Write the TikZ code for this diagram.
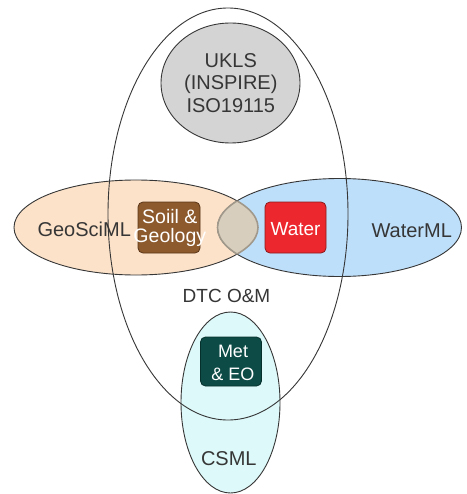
\documentclass[tikz,border=0pt]{standalone}
\usepackage{fontspec}
\setmainfont{Liberation Sans}
\definecolor{geofill}{HTML}{FCE2C9}
\definecolor{waterfill}{HTML}{BEDFFA}
\definecolor{lensfill}{HTML}{D8CEBE}
\definecolor{lensedge}{HTML}{A0988A}
\definecolor{uklsfill}{HTML}{D4D4D4}
\definecolor{csmlfill}{HTML}{DDF9F9}
\definecolor{soilfill}{HTML}{8C5A2D}
\definecolor{soiledge}{HTML}{5A3618}
\definecolor{redfill}{HTML}{EC282E}
\definecolor{rededge}{HTML}{8A1A1C}
\definecolor{metfill}{HTML}{0C4B46}
\definecolor{metedge}{HTML}{06302C}
\definecolor{ink}{HTML}{363636}
\begin{document}
\begin{tikzpicture}[x=1pt,y=-1pt,
  outline/.style={draw=ink, line width=0.9pt},
  lbl/.style={text=ink, font=\fontsize{20}{22.5}\selectfont, align=center, inner sep=0pt},
  tag/.style={draw, rounded corners=5pt, line width=0.8pt, inner sep=0pt},
  tagtext/.style={text=white, align=center, inner sep=0pt}]

\useasboundingbox (0,0) rectangle (466,494);
\fill[white] (0,0) rectangle (466,494);

% CSML ellipse (fill first so the DTC outline stays on top)
\fill[csmlfill] (230.5,402.5) ellipse [x radius=49.5pt, y radius=90.5pt];

% GeoSciML and WaterML ellipses
\draw[outline, fill=geofill] (136,227.5) ellipse [x radius=122pt, y radius=47.5pt];
\draw[outline, fill=waterfill] (339.5,227.5) ellipse [x radius=122pt, y radius=49pt];

% overlap of the two
\begin{scope}
  \clip (136,227.5) ellipse [x radius=122pt, y radius=47.5pt];
  \draw[fill=lensfill, draw=lensedge, line width=1.6pt] (339.5,227.5) ellipse [x radius=122pt, y radius=49pt];
\end{scope}
\begin{scope}
  \clip (339.5,227.5) ellipse [x radius=122pt, y radius=49pt];
  \draw[draw=lensedge, line width=1.6pt] (136,227.5) ellipse [x radius=122pt, y radius=47.5pt];
\end{scope}

% UKLS circle
\draw[outline, fill=uklsfill] (230.5,83) ellipse [x radius=69.5pt, y radius=60pt];

% DTC O&M ellipse and CSML outline
\draw[outline] (228,214) ellipse [x radius=120pt, y radius=206pt];
\draw[outline] (230.5,402.5) ellipse [x radius=49.5pt, y radius=90.5pt];

% coloured boxes
\node[tag, fill=soilfill, draw=soiledge, minimum width=62pt, minimum height=51pt] (soil) at (169,227.5) {};
\node[tag, fill=redfill, draw=rededge, minimum width=61pt, minimum height=51pt] (water) at (295.5,227.5) {};
\node[tag, fill=metfill, draw=metedge, minimum width=61pt, minimum height=49pt] (met) at (231,361.5) {};

\node[tagtext, font=\fontsize{19.5}{18.5}\selectfont, anchor=north] (soiltext) at (169.8,209.5) {Soiil \&\\Geology};
\node[tagtext, font=\fontsize{19}{22}\selectfont, anchor=base] (watertext) at (295.5,235.7) {Water};
\node[tagtext, font=\fontsize{18}{22.7}\selectfont, anchor=north] (mettext) at (233,345) {Met\\\& EO};

% labels
\node[lbl, anchor=north] (ukls) at (230.8,53.3) {UKLS\\(INSPIRE)\\ISO19115};
\node[lbl, anchor=base] (geosciml) at (84.2,236) {GeoSciML};
\node[lbl, anchor=base] (waterml) at (411.7,237.3) {WaterML};
\node[lbl, font=\fontsize{19}{22}\selectfont, anchor=base] (dtc) at (226.5,302.7) {DTC O\&M};
\node[lbl, anchor=base] (csml) at (228.8,465.7) {CSML};
\end{tikzpicture}
\end{document}
